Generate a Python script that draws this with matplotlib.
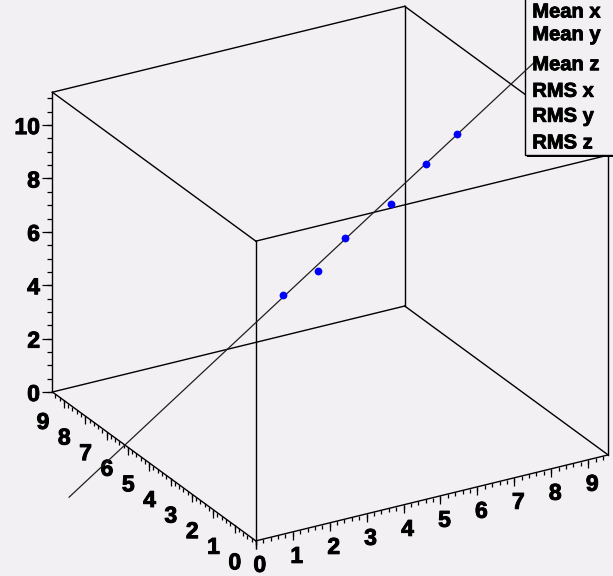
import numpy as np
import matplotlib
matplotlib.use("Agg")
import matplotlib.pyplot as plt
from matplotlib.patches import Rectangle
import matplotlib.patheffects as pe

# ---------------- data ----------------
x_lim = [0.0, 9.54]
y_lim = [0.0, 9.54]
z_lim = [0.0, 11.23]

x_major = [0, 1, 2, 3, 4, 5, 6, 7, 8, 9]
x_labels = ["0", "1", "2", "3", "4", "5", "6", "7", "8", "9"]
y_major = [0, 1, 2, 3, 4, 5, 6, 7, 8, 9]
y_labels = ["0", "1", "2", "3", "4", "5", "6", "7", "8", "9"]
z_major = [0, 2, 4, 6, 8, 10]
z_labels = ["0", "2", "4", "6", "8", "10"]
xy_minor_step = 0.2
z_minor_step = 0.5

pts_x = [3.24, 4.20, 4.92, 6.18, 7.13, 7.95]
pts_y = [4.35, 4.35, 4.35, 4.35, 4.35, 4.35]
pts_z = [5.56, 6.15, 7.14, 7.99, 9.16, 10.01]

fit_x = [-2.58, 10.13]
fit_y = [4.29, 4.40]
fit_z = [0.0, 12.0]

stat_labels = ["Mean x", "Mean y", "Mean z", "RMS x", "RMS y", "RMS z"]

# ---------------- style / layout ----------------
W, H = 613, 576
BG = "#f3f0f3"
FONT = "Liberation Sans"
BOLDER = [pe.withStroke(linewidth=0.7, foreground="black")]

fig = plt.figure(figsize=(W / 100, H / 100), dpi=100)
fig.patch.set_facecolor(BG)


def make_ax(zo):
    ax = fig.add_axes([0, 0, 1, 1], projection="3d", proj_type="ortho",
                      computed_zorder=False, zorder=zo)
    ax.set_xlim(*x_lim)
    ax.set_ylim(*y_lim)
    ax.set_zlim(*z_lim)
    ax.view_init(elev=25, azim=-120)
    ax.set_box_aspect((1, 1, 0.813))
    ax.set_axis_off()
    ax.set_facecolor("none")
    ax.patch.set_alpha(0)
    return ax


ax1 = make_ax(0)
ax2 = make_ax(2)

x0, x1 = x_lim
y0, y1 = y_lim
z0, z1 = z_lim

# box edges
edges = [
    ((x0, x1), (y0, y0), (z0, z0)), ((x0, x0), (y0, y1), (z0, z0)),
    ((x1, x1), (y0, y1), (z0, z0)), ((x0, x1), (y1, y1), (z0, z0)),
    ((x0, x1), (y0, y0), (z1, z1)), ((x0, x0), (y0, y1), (z1, z1)),
    ((x1, x1), (y0, y1), (z1, z1)), ((x0, x1), (y1, y1), (z1, z1)),
    ((x0, x0), (y0, y0), (z0, z1)), ((x1, x1), (y0, y0), (z0, z1)),
    ((x0, x0), (y1, y1), (z0, z1)), ((x1, x1), (y1, y1), (z0, z1)),
]
for ex, ey, ez in edges:
    ax1.plot(ex, ey, ez, color="black", lw=1.0, zorder=1)

# ticks
xminor = np.arange(0, x1 + 1e-9, xy_minor_step)
yminor = np.arange(0, y1 + 1e-9, xy_minor_step)
zminor = np.arange(0, z1 + 1e-9, z_minor_step)
ax1.plot(xminor, np.zeros_like(xminor), np.zeros_like(xminor), ls="none",
         marker=3, ms=2.9, mew=0.9, color="black", zorder=1)
ax1.plot(x_major, np.zeros(len(x_major)), np.zeros(len(x_major)), ls="none",
         marker=3, ms=5.8, mew=0.9, color="black", zorder=1)
ax1.plot(np.zeros_like(yminor), yminor, np.zeros_like(yminor), ls="none",
         marker=3, ms=2.9, mew=0.9, color="black", zorder=1)
ax1.plot(np.zeros(len(y_major)), y_major, np.zeros(len(y_major)), ls="none",
         marker=3, ms=5.8, mew=0.9, color="black", zorder=1)
ax1.plot(np.zeros_like(zminor), np.full_like(zminor, y1), zminor, ls="none",
         marker=0, ms=3.6, mew=0.9, color="black", zorder=1)
ax1.plot(np.zeros(len(z_major)), np.full(len(z_major), y1), z_major, ls="none",
         marker=0, ms=7.2, mew=0.9, color="black", zorder=1)

# fit line and points (on top axes)
ax2.plot(fit_x, fit_y, fit_z, color="#202020", lw=0.9, zorder=1)
ax2.plot(pts_x, pts_y, pts_z, ls="none", marker="o", ms=5.6, mew=0,
         color="#0000ff", zorder=2)

# ---- fit the axes placement so the box lands where it should ----
fig.canvas.draw()


def to_disp(ax, X, Y, Z):
    X = np.asarray(X, float); Y = np.asarray(Y, float); Z = np.asarray(Z, float)
    v = ax.M @ np.vstack([X, Y, Z, np.ones_like(X)])
    xs, ys = v[0] / v[3], v[1] / v[3]
    return ax.transData.transform(np.column_stack([xs, ys]))


cx_ = [x0, x1, x0, x1, x0, x0, x1, x1]
cy_ = [y0, y0, y1, y1, y0, y1, y0, y1]
cz_ = [z0, z0, z0, z0, z1, z1, z1, z1]
targets = np.array([(256, 541), (608, 455), (52.5, 392), (405, 306),
                    (256, 241.7), (52.7, 92.3), (608, 155), (404, 5.7)], float)
targets[:, 1] = H - targets[:, 1]
d = to_disp(ax1, cx_, cy_, cz_)
bb = ax1.bbox
c = np.array([(bb.x0 + bb.x1) / 2, (bb.y0 + bb.y1) / 2])
S = bb.width
A = []
b = []
for (dxp, dyp), (tx, ty) in zip(d, targets):
    A.append([dxp - c[0], 1, 0]); b.append(tx)
    A.append([dyp - c[1], 0, 1]); b.append(ty)
sol, *_ = np.linalg.lstsq(np.array(A), np.array(b), rcond=None)
k, ncx, ncy = sol
S2 = k * S
pos = [(ncx - S2 / 2) / W, (ncy - S2 / 2) / H, S2 / W, S2 / H]
ax1.set_position(pos)
ax2.set_position(pos)
fig.canvas.draw()

# ---- tick labels placed at projected tick positions ----
tfont = dict(family=FONT, weight="bold", size=16.5, color="black",
             path_effects=BOLDER)
px = to_disp(ax1, x_major, np.zeros(len(x_major)), np.zeros(len(x_major)))
for (u, v), s in zip(px, x_labels):
    fig.text((u + 4) / W, (v - 22) / H, s, ha="center", va="center_baseline",
             zorder=1, **tfont)
py = to_disp(ax1, np.zeros(len(y_major)), y_major, np.zeros(len(y_major)))
for (u, v), s in zip(py, y_labels):
    fig.text((u - 21) / W, (v - 19.5) / H, s, ha="center",
             va="center_baseline", zorder=1, **tfont)
pz = to_disp(ax1, np.zeros(len(z_major)), np.full(len(z_major), y1), z_major)
for (u, v), s in zip(pz, z_labels):
    fig.text((u - 12.5) / W, v / H, s, ha="right", va="center_baseline",
             zorder=1, **tfont)

# ---- stats box ----
fig.patches.append(Rectangle((527 / W, (H - 157) / H), 0.5, 0.5,
                             transform=fig.transFigure, facecolor="black",
                             edgecolor="none", zorder=1))
fig.patches.append(Rectangle((525 / W, (H - 155) / H), 0.5, 0.5,
                             transform=fig.transFigure, facecolor=BG,
                             edgecolor="black", lw=1.0, zorder=1))
baselines = [17.5, 40.2, 70.2, 96.8, 121.8, 148.5]
for s, yb in zip(stat_labels, baselines):
    fig.text(532.3 / W, (H - yb) / H, s, ha="left", va="baseline",
             family=FONT, weight="bold", size=14.5, color="black", zorder=3,
             path_effects=[pe.withStroke(linewidth=0.6, foreground="black")])

fig.savefig("out.png", dpi=100, facecolor=BG)
